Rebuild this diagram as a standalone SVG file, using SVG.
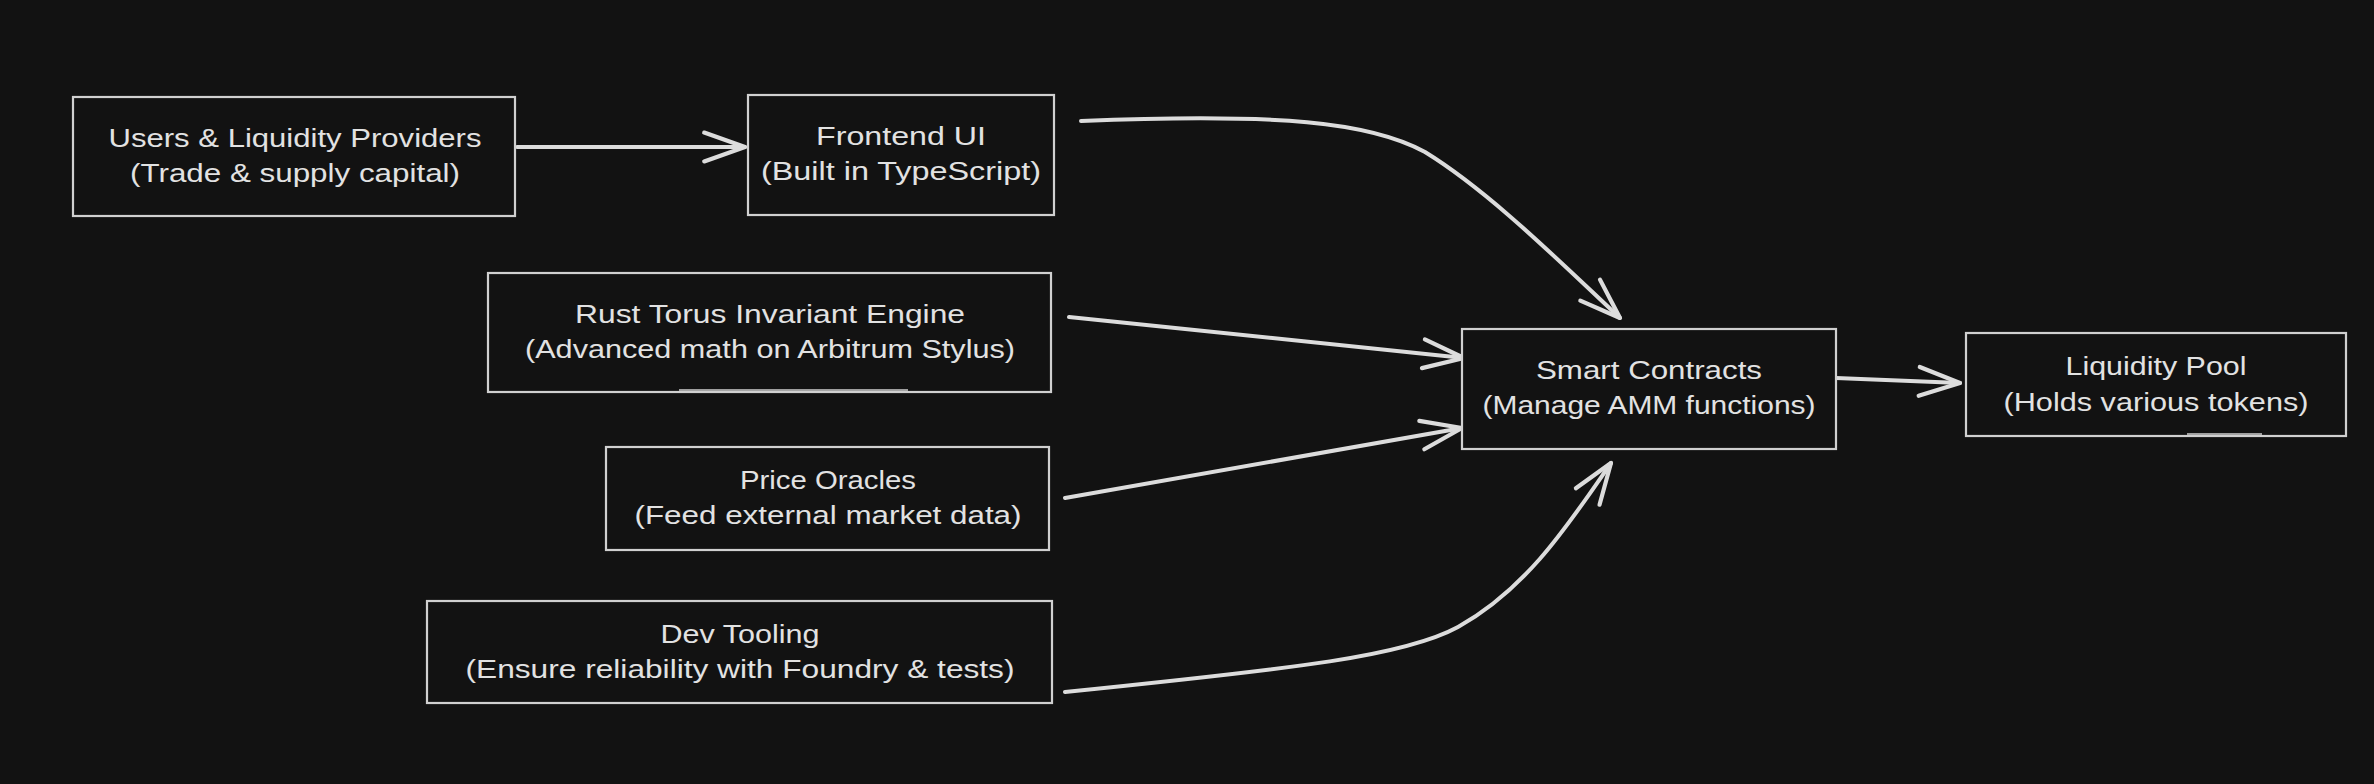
<svg xmlns="http://www.w3.org/2000/svg" width="2374" height="784" viewBox="0 0 2374 784">
<style>
.box{fill:#121212;stroke:#d0d0d0;stroke-width:2.2}
.lbl{font-family:"Liberation Sans",Arial,sans-serif;font-size:26px;fill:#e2e2e2;text-anchor:middle}
.conn{fill:none;stroke:#dcdcdc;stroke-width:4;stroke-linecap:round;stroke-linejoin:round}
.art{stroke:#cfcfcf;stroke-width:1.5;fill:none}
</style>
<defs>
<marker id="arr" markerUnits="userSpaceOnUse" markerWidth="60" markerHeight="60" refX="0" refY="0" viewBox="-40 -20 50 40" orient="auto" overflow="visible">
<path d="M-34,-12 L0,0 L-34,12" fill="none" stroke="#dcdcdc" stroke-width="3.5" stroke-linecap="round" stroke-linejoin="round"/>
</marker>
</defs>
<rect width="2374" height="784" fill="#121212"/>
<g id="connectors">
<path class="conn" d="M517,147 L745,147" marker-end="url(#arr)"/>
<path class="conn" d="M1081,121 C1280,113 1370,122 1425,152 C1490,192 1560,262 1620,318" marker-end="url(#arr)"/>
<path class="conn" d="M1069,317 L1464,358" marker-end="url(#arr)"/>
<path class="conn" d="M1065,498 L1462,428" marker-end="url(#arr)"/>
<path class="conn" d="M1065,692 C1300,668 1405,656 1458,627 C1528,588 1570,522 1611,463" marker-end="url(#arr)"/>
<path class="conn" d="M1836,378 L1960,383" marker-end="url(#arr)"/>
</g>
<g id="users">
<rect class="box" x="73" y="97" width="442" height="119"/>
<text class="lbl" x="295" y="147" textLength="373" lengthAdjust="spacingAndGlyphs">Users &amp; Liquidity Providers</text>
<text class="lbl" x="295" y="182" textLength="330" lengthAdjust="spacingAndGlyphs">(Trade &amp; supply capital)</text>
</g>
<g id="frontend">
<rect class="box" x="748" y="95" width="306" height="120"/>
<text class="lbl" x="901" y="145" textLength="170" lengthAdjust="spacingAndGlyphs">Frontend UI</text>
<text class="lbl" x="901" y="180" textLength="280" lengthAdjust="spacingAndGlyphs">(Built in TypeScript)</text>
</g>
<g id="rust">
<rect class="box" x="488" y="273" width="563" height="119"/>
<line class="art" x1="679" y1="390" x2="908" y2="390"/>
<text class="lbl" x="770" y="323" textLength="390" lengthAdjust="spacingAndGlyphs">Rust Torus Invariant Engine</text>
<text class="lbl" x="770" y="358" textLength="490" lengthAdjust="spacingAndGlyphs">(Advanced math on Arbitrum Stylus)</text>
</g>
<g id="oracles">
<rect class="box" x="606" y="447" width="443" height="103"/>
<text class="lbl" x="828" y="489" textLength="176" lengthAdjust="spacingAndGlyphs">Price Oracles</text>
<text class="lbl" x="828" y="524" textLength="387" lengthAdjust="spacingAndGlyphs">(Feed external market data)</text>
</g>
<g id="devtooling">
<rect class="box" x="427" y="601" width="625" height="102"/>
<text class="lbl" x="740" y="643" textLength="159" lengthAdjust="spacingAndGlyphs">Dev Tooling</text>
<text class="lbl" x="740" y="678" textLength="549" lengthAdjust="spacingAndGlyphs">(Ensure reliability with Foundry &amp; tests)</text>
</g>
<g id="contracts">
<rect class="box" x="1462" y="329" width="374" height="120"/>
<text class="lbl" x="1649" y="379" textLength="226" lengthAdjust="spacingAndGlyphs">Smart Contracts</text>
<text class="lbl" x="1649" y="414" textLength="333" lengthAdjust="spacingAndGlyphs">(Manage AMM functions)</text>
</g>
<g id="pool">
<rect class="box" x="1966" y="333" width="380" height="103"/>
<line class="art" x1="2187" y1="434" x2="2262" y2="434"/>
<text class="lbl" x="2156" y="375" textLength="181" lengthAdjust="spacingAndGlyphs">Liquidity Pool</text>
<text class="lbl" x="2156" y="411" textLength="305" lengthAdjust="spacingAndGlyphs">(Holds various tokens)</text>
</g>
</svg>
